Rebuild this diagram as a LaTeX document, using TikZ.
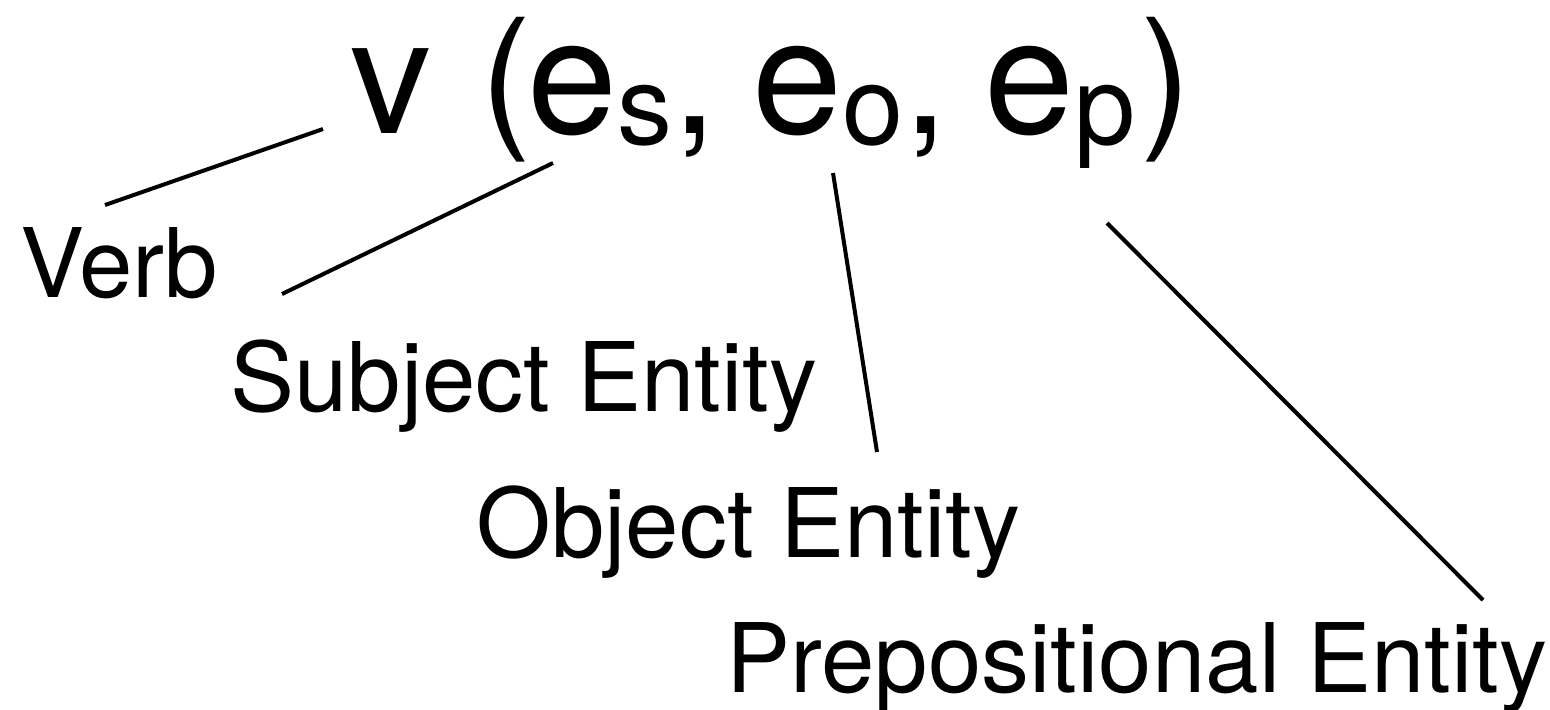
\documentclass[tikz,border=0pt]{standalone}
\usepackage{fontspec}
\setmainfont{TeX Gyre Heros}
\usepackage{tikz}
\usetikzlibrary{positioning}
\newcommand{\argsub}[1]{\raisebox{-5.5pt}{\fontsize{55}{55}\selectfont #1}}

\begin{document}
\begin{tikzpicture}[x=0.5pt, y=-0.5pt]
% Styles:
\tikzset{formula/.style={anchor=base west, inner sep=0pt, font=\fontsize{81}{81}\selectfont}}
\tikzset{paren/.style={anchor=base west, inner sep=0pt, font=\fontsize{77}{77}\selectfont}}
\tikzset{role/.style={anchor=base west, inner sep=0pt, font=\fontsize{48}{48}\selectfont}}
\tikzset{link/.style={line width=2pt}}

\useasboundingbox (0,0) rectangle (1550,709);

% Predicate:
\node[formula] (verbsym) at (350,133) {v};
\node[paren]   (lpar)    at (480,129) {(};
\node[formula] (subj)    at (527,133) {e\argsub{s},};
\node[formula] (obj)     at (752,133) {e\argsub{o},};
\node[formula] (prep)    at (984,133) {e\argsub{p}};
\node[paren]   (rpar)    at (1140,129) {)};

% Roles:
\node[role] (verb)     at (20,297)  {Verb};
\node[role] (subjrole) at (230,411) {Subject Entity};
\node[role] (objrole)  at (476,557) {Object Entity};
\node[role] (preprole) at (726,692) {Prepositional Entity};

% Line ends:
\coordinate (verb-a) at (105,205);
\coordinate (verb-b) at (323,129);
\coordinate (subj-a) at (282,294);
\coordinate (subj-b) at (553,163);
\coordinate (obj-a)  at (877,452);
\coordinate (obj-b)  at (833,173);
\coordinate (prep-a) at (1483,600);
\coordinate (prep-b) at (1107,223);

% Links:
\draw[link] (verb-a) -- (verb-b);
\draw[link] (subj-a) -- (subj-b);
\draw[link] (obj-a)  -- (obj-b);
\draw[link] (prep-a) -- (prep-b);
\end{tikzpicture}
\end{document}
